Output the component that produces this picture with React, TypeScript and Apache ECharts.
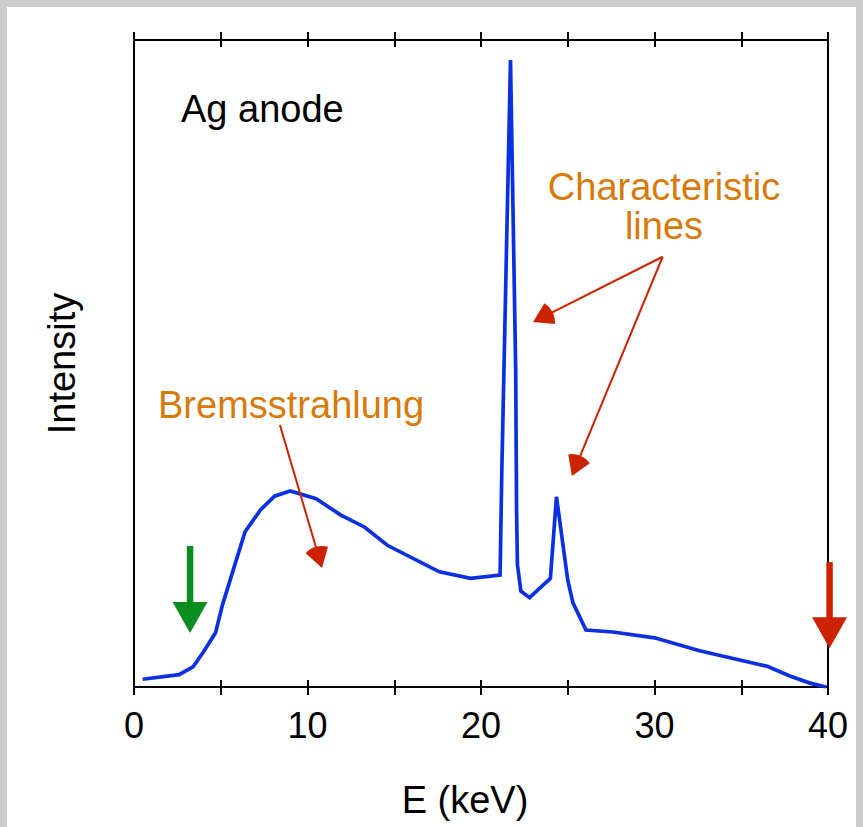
import React, { useEffect, useRef } from "react";
import * as echarts from "echarts";

// Spectrum of an Ag-anode X-ray tube (arbitrary intensity units, 0-100)
const ENERGY_KEV = [0.5, 2.6, 3.4, 4.0, 4.7, 5.1, 6.4, 7.3, 8.1, 9.0, 10.5, 11.9, 13.3, 14.6, 17.6, 19.4, 21.1, 21.2, 21.7, 22.0, 22.05, 22.1, 22.3, 22.8, 24.0, 24.35, 25.0, 25.3, 26.05, 27.6, 30.0, 32.6, 36.5, 37.8, 38.96, 39.9];
const INTENSITY = [1.2, 1.9, 3.1, 5.4, 8.4, 12.7, 24.0, 27.4, 29.5, 30.3, 29.1, 26.6, 24.7, 21.9, 17.8, 16.8, 17.3, 33.5, 96.9, 49.0, 27.4, 18.9, 14.8, 13.8, 16.8, 29.4, 16.5, 13.0, 8.8, 8.5, 7.6, 5.6, 3.2, 1.7, 0.6, 0];

const X_MIN = 0;
const X_MAX = 40;
const X_TICK_STEP = 5;
const X_LABEL_STEP = 10;

const TITLE_TEXT = "Ag anode";
const BREMS_TEXT = "Bremsstrahlung";
const CHAR_TEXT = "Characteristic\nlines";
const X_NAME = "E (keV)";
const Y_NAME = "Intensity";

// annotation anchors in data coordinates [E, I]
const BREMS_ARROW = { from: [8.41, 40.5], to: [10.84, 18.4] };
const CHAR_ARROW_A = { from: [30.47, 66.5], to: [23.0, 56.4] };
const CHAR_ARROW_B = { from: [30.47, 66.5], to: [25.24, 32.6] };
const GREEN_ARROW = { from: [3.23, 21.8], to: [3.23, 8.35] };
const RED_ARROW = { from: [40.09, 19.3], to: [40.09, 6.0] };

const FONT = '"Liberation Sans", Arial, Helvetica, sans-serif';
const BLUE = "#0a30e0";
const ORANGE = "#d87a0a";
const RED = "#cc2200";
const GREEN = "#0a8c1e";
const TEXT_SIZE = 38;

export default function App() {
  const ref = useRef<HTMLDivElement>(null);

  useEffect(() => {
    document.body.style.margin = "0";
    const chart = echarts.init(ref.current!, undefined, { renderer: "svg" });

    const baseX = (position: string, inside: boolean, length: number, labels: boolean, named: boolean) => ({
      type: "value",
      min: X_MIN,
      max: X_MAX,
      interval: X_TICK_STEP,
      position,
      axisLine: { show: true, onZero: false, lineStyle: { color: "#000", width: 2 } },
      axisTick: { show: true, inside, length, lineStyle: { color: "#000", width: 2 } },
      axisLabel: labels
        ? {
            show: true,
            fontSize: 36,
            color: "#000",
            fontFamily: FONT,
            margin: 20,
            formatter: (v: number) => (v % X_LABEL_STEP === 0 ? String(v) : ""),
          }
        : { show: false },
      splitLine: { show: false },
      ...(named
        ? {
            name: X_NAME,
            nameLocation: "middle",
            nameGap: 94,
            nameTextStyle: { fontSize: TEXT_SIZE, color: "#000", fontFamily: FONT, padding: [0, 32, 0, 0] },
          }
        : {}),
    });

    const data = ENERGY_KEV.map((e, i) => [e, INTENSITY[i]]);

    chart.setOption({
      animation: false,
      grid: { left: 134, right: 35, top: 40, bottom: 140 },
      xAxis: [
        baseX("bottom", false, 8, true, true),
        baseX("bottom", true, 7, false, false),
        baseX("top", false, 8, false, false),
        baseX("top", true, 7, false, false),
      ],
      yAxis: [
        {
          type: "value",
          min: 0,
          max: 100,
          position: "left",
          axisLine: { show: true, onZero: false, lineStyle: { color: "#000", width: 2 } },
          axisTick: { show: false },
          axisLabel: { show: false },
          splitLine: { show: false },
          name: Y_NAME,
          nameLocation: "middle",
          nameGap: 53,
          nameRotate: 90,
          nameTextStyle: { fontSize: TEXT_SIZE, color: "#000", fontFamily: FONT },
        },
        {
          type: "value",
          min: 0,
          max: 100,
          position: "right",
          axisLine: { show: true, onZero: false, lineStyle: { color: "#000", width: 2 } },
          axisTick: { show: false },
          axisLabel: { show: false },
          splitLine: { show: false },
        },
      ],
      series: [
        {
          type: "line",
          xAxisIndex: 0,
          yAxisIndex: 0,
          data,
          showSymbol: false,
          symbol: "none",
          lineStyle: { color: BLUE, width: 3.7, join: "miter" },
          z: 3,
        },
      ],
    });

    const px = (p: number[]) => chart.convertToPixel({ gridIndex: 0 }, p) as number[];

    const thinArrow = (a: { from: number[]; to: number[] }) => {
      const s = px(a.from);
      const t = px(a.to);
      const ang = Math.atan2(s[1] - t[1], s[0] - t[0]);
      const h = (32 * Math.PI) / 180;
      return [
        {
          type: "line",
          shape: { x1: s[0], y1: s[1], x2: t[0] + Math.cos(ang) * 12, y2: t[1] + Math.sin(ang) * 12 },
          style: { stroke: RED, lineWidth: 2 },
          z: 10,
        },
        {
          type: "sector",
          shape: { cx: t[0], cy: t[1], r0: 0, r: 22, startAngle: ang - h, endAngle: ang + h, clockwise: true },
          style: { fill: RED },
          z: 10,
        },
      ];
    };

    const thickArrow = (a: { from: number[]; to: number[] }, color: string) => {
      const s = px(a.from);
      const t = px(a.to);
      const headH = 31;
      const headW = 35;
      return [
        {
          type: "rect",
          shape: { x: s[0] - 3.25, y: s[1], width: 6.5, height: t[1] - headH - s[1] + 1 },
          style: { fill: color },
          z: 10,
        },
        {
          type: "polygon",
          shape: {
            points: [
              [t[0] - headW / 2, t[1] - headH],
              [t[0] + headW / 2, t[1] - headH],
              [t[0], t[1]],
            ],
          },
          style: { fill: color },
          z: 10,
        },
      ];
    };

    const text = (str: string, x: number, y: number, color: string, align: string, lineHeight?: number) => ({
      type: "text",
      x,
      y,
      style: {
        text: str,
        fill: color,
        font: `${TEXT_SIZE}px ${FONT}`,
        fontSize: TEXT_SIZE,
        fontFamily: FONT,
        textAlign: align,
        align,
        textVerticalAlign: "middle",
        verticalAlign: "middle",
        lineHeight: lineHeight || TEXT_SIZE,
      },
      z: 10,
    });

    chart.setOption({
      graphic: [
        text(TITLE_TEXT, 181, 108.5, "#000", "left"),
        text(BREMS_TEXT, 158, 405, ORANGE, "left"),
        text(CHAR_TEXT, 664, 206, ORANGE, "center", 39),
        ...thinArrow(BREMS_ARROW),
        ...thinArrow(CHAR_ARROW_A),
        ...thinArrow(CHAR_ARROW_B),
        ...thickArrow(GREEN_ARROW, GREEN),
        ...thickArrow(RED_ARROW, RED),
      ],
    });

    return () => chart.dispose();
  }, []);

  return (
    <div style={{ position: "fixed", left: 0, top: 0, width: 863, height: 827, background: "#cccccc", overflow: "hidden" }}>
      <div style={{ position: "absolute", left: 7, top: 7, width: 849, height: 820, background: "#ffffff" }} />
      <div ref={ref} style={{ position: "absolute", left: 0, top: 0, width: 863, height: 827 }} />
    </div>
  );
}
